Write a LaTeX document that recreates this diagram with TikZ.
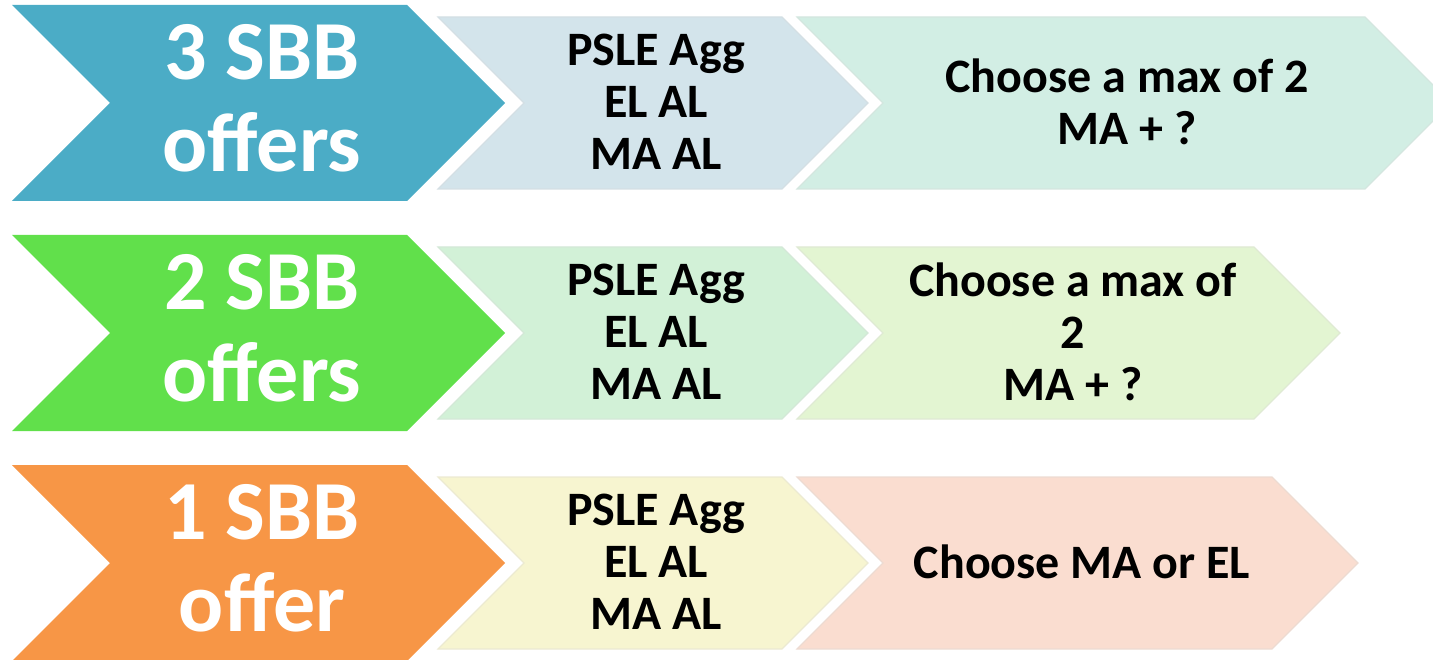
\documentclass[tikz,border=0pt]{standalone}
\usepackage{fontspec}
\setmainfont{Carlito}
\usepackage{tikz}

\definecolor{tealA}{HTML}{4BACC6}
\definecolor{greenA}{HTML}{61E04B}
\definecolor{orangeA}{HTML}{F79646}
\definecolor{midA}{HTML}{D3E4EB}
\definecolor{midB}{HTML}{D2F1D7}
\definecolor{midC}{HTML}{F7F5D0}
\definecolor{endA}{HTML}{D2EEE4}
\definecolor{endB}{HTML}{E3F5D2}
\definecolor{endC}{HTML}{FADDD0}

\begin{document}
\begin{tikzpicture}[x=1pt,y=1pt,yscale=-1,xscale=1,
  bigtext/.style={align=center,text=white,inner sep=0pt,font=\bfseries\fontsize{84}{92}\selectfont},
  smalltext/.style={align=center,text=black,inner sep=0pt,font=\bfseries\fontsize{48}{52}\selectfont},
  pale/.style={line width=1.2pt,draw=#1!92!black!70,fill=#1}]
\useasboundingbox (0,0) rectangle (1433,660);
\clip (0,0) rectangle (1433,660);

%Shape: Chevron 3 SBB
\fill [tealA] (12,5) -- (407,5) -- (505,103) -- (407,201) -- (12,201) -- (110,103) -- cycle ;
%Shape: Chevron PSLE row 1
\draw [pale=midA] (438,17) -- (782,17) -- (868,103) -- (782,189) -- (438,189) -- (524,103) -- cycle ;
%Shape: Chevron choice row 1
\draw [pale=endA] (797,17) -- (1365,17) -- (1451,103) -- (1365,189) -- (797,189) -- (883,103) -- cycle ;

%Shape: Chevron 2 SBB
\fill [greenA] (12,235) -- (407,235) -- (505,333) -- (407,431) -- (12,431) -- (110,333) -- cycle ;
%Shape: Chevron PSLE row 2
\draw [pale=midB] (438,247) -- (782,247) -- (868,333) -- (782,419) -- (438,419) -- (524,333) -- cycle ;
%Shape: Chevron choice row 2
\draw [pale=endB] (797,247) -- (1254,247) -- (1340,333) -- (1254,419) -- (797,419) -- (883,333) -- cycle ;

%Shape: Chevron 1 SBB
\fill [orangeA] (12,465) -- (407,465) -- (505,563) -- (407,661) -- (12,661) -- (110,563) -- cycle ;
%Shape: Chevron PSLE row 3
\draw [pale=midC] (438,477) -- (782,477) -- (868,563) -- (782,649) -- (438,649) -- (524,563) -- cycle ;
%Shape: Chevron choice row 3
\draw [pale=endC] (797,477) -- (1272,477) -- (1358,563) -- (1272,649) -- (797,649) -- (883,563) -- cycle ;

% Text Node
\draw (262,98) node (offerA) [bigtext] {3 SBB\\offers};
% Text Node
\draw (656,102) node (psleA) [smalltext] {PSLE Agg\\EL AL\\MA AL};
% Text Node
\draw (1127,102) node (choiceA) [smalltext] {Choose a max of 2\\MA + ?};
% Text Node
\draw (262,328) node (offerB) [bigtext] {2 SBB\\offers};
% Text Node
\draw (656,332) node (psleB) [smalltext] {PSLE Agg\\EL AL\\MA AL};
% Text Node
\draw (1073,332) node (choiceB) [smalltext] {Choose a max of\\2\\MA + ?};
% Text Node
\draw (262,558) node (offerC) [bigtext] {1 SBB\\offer};
% Text Node
\draw (656,562) node (psleC) [smalltext] {PSLE Agg\\EL AL\\MA AL};
% Text Node
\draw (1082,562) node (choiceC) [smalltext] {Choose MA or EL};

\end{tikzpicture}
\end{document}
